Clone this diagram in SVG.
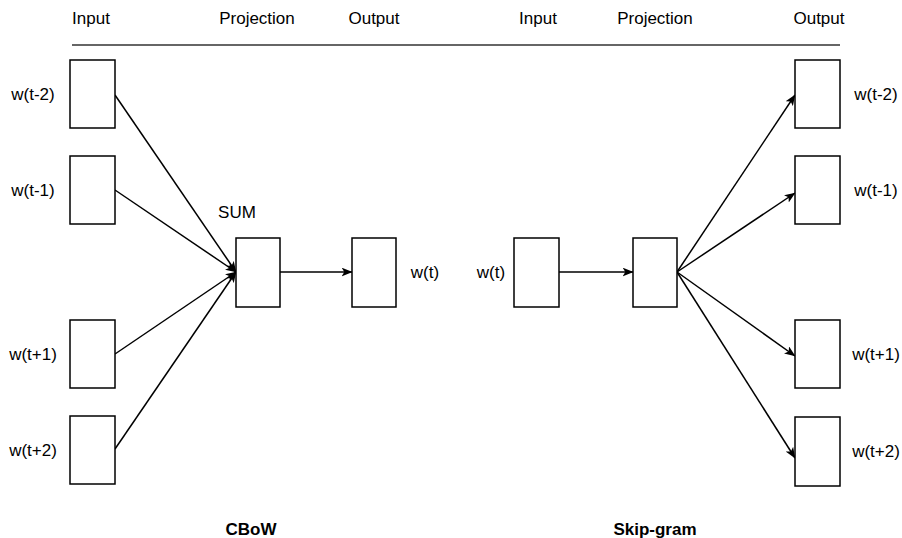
<svg xmlns="http://www.w3.org/2000/svg" width="902" height="538" viewBox="0 0 902 538">
<style>
text{font-family:"Liberation Sans",Arial,sans-serif;font-size:17px;fill:#000;text-anchor:middle}
.b{font-weight:bold}
.box{fill:#fff;stroke:#000;stroke-width:1.5}
.edge{stroke:#000;stroke-width:1.5;fill:none;marker-end:url(#arr)}
</style>
<defs>
<marker id="arr" viewBox="0 0 10 8" refX="9.5" refY="4" markerWidth="11" markerHeight="9" markerUnits="userSpaceOnUse" orient="auto">
<path d="M0,0 L10,4 L0,8 L2.5,4 z" fill="#000"/>
</marker>
</defs>
<rect width="902" height="538" fill="#fff"/>
<g id="headers">
<text x="91" y="24">Input</text>
<text x="257" y="24">Projection</text>
<text x="374" y="24">Output</text>
<text x="538" y="24">Input</text>
<text x="655" y="24">Projection</text>
<text x="819" y="24">Output</text>
<line x1="72" y1="45" x2="840" y2="45" stroke="#333" stroke-width="1.5"/>
</g>
<g id="connectors">
<path class="edge" d="M115,95 L236,272"/>
<path class="edge" d="M115,190 L236,272"/>
<path class="edge" d="M115,354 L236,272"/>
<path class="edge" d="M115,449 L236,272"/>
<path class="edge" d="M280,272 L352,272"/>
<path class="edge" d="M559,272 L633,272"/>
<path class="edge" d="M677,272 L795,95"/>
<path class="edge" d="M677,272 L795,193"/>
<path class="edge" d="M677,272 L795,356"/>
<path class="edge" d="M677,272 L795,458"/>
</g>
<g id="cbow-in-t-2"><rect class="box" x="70" y="60" width="45" height="68"/><text x="33" y="100">w(t-2)</text></g>
<g id="cbow-in-t-1"><rect class="box" x="70" y="156" width="45" height="68"/><text x="33" y="196">w(t-1)</text></g>
<g id="cbow-in-t+1"><rect class="box" x="70" y="320" width="45" height="68"/><text x="33" y="360">w(t+1)</text></g>
<g id="cbow-in-t+2"><rect class="box" x="70" y="416" width="45" height="68"/><text x="33" y="456">w(t+2)</text></g>
<g id="cbow-sum"><rect class="box" x="236" y="238" width="44" height="69"/><text x="237" y="218">SUM</text></g>
<g id="cbow-out"><rect class="box" x="352" y="238" width="44" height="69"/><text x="425" y="278">w(t)</text></g>
<g id="sg-in"><rect class="box" x="514" y="238" width="45" height="69"/><text x="491" y="278">w(t)</text></g>
<g id="sg-proj"><rect class="box" x="633" y="238" width="44" height="69"/></g>
<g id="sg-out-t-2"><rect class="box" x="795" y="60" width="45" height="68"/><text x="876" y="100">w(t-2)</text></g>
<g id="sg-out-t-1"><rect class="box" x="795" y="156" width="45" height="68"/><text x="876" y="196">w(t-1)</text></g>
<g id="sg-out-t+1"><rect class="box" x="795" y="320" width="45" height="68"/><text x="876" y="360">w(t+1)</text></g>
<g id="sg-out-t+2"><rect class="box" x="795" y="417" width="45" height="69"/><text x="876" y="457">w(t+2)</text></g>
<g id="titles">
<text class="b" x="251" y="535">CBoW</text>
<text class="b" x="655" y="535">Skip-gram</text>
</g>
</svg>
